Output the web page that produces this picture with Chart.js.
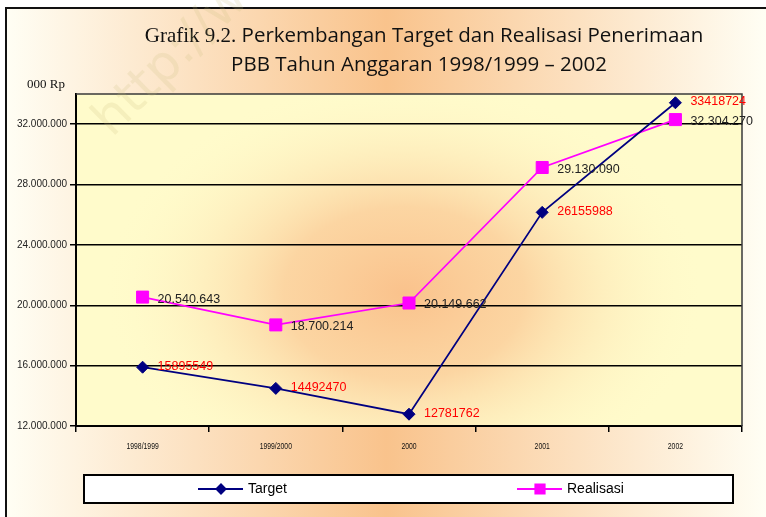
<!DOCTYPE html>
<html>
<head>
<meta charset="utf-8">
<title>Perkembangan Target dan Realisasi Penerimaan PBB</title>
<script src="https://cdn.jsdelivr.net/npm/chart.js@4.4.0/dist/chart.umd.min.js"></script>
<style>
    html, body { margin: 0; padding: 0; background: #fff; }
</style>
</head>
<body>
<canvas id="pbbChart" width="766" height="517"></canvas>
<script>
// Tahun anggaran dan nilai (ribu rupiah)
const years = ['1998/1999', '1999/2000', '2000', '2001', '2002'];
const targetValues = [15895549, 14492470, 12781762, 26155988, 33418724];
const realisasiValues = [20540643, 18700214, 20149662, 29130090, 32304270];
const yTicks = [12000000, 16000000, 20000000, 24000000, 28000000, 32000000];
const yMin = 12000000;
const yMax = 34000000;

// 32000000 -> "32.000.000"
const dotted = v => String(v).replace(/\B(?=(\d{3})+(?!\d))/g, '.');

const TITLE_SANS = '"Open Sans", "Noto Sans", sans-serif';

// Background: chart gradient, plot area gradient, outer frame, titles
const backdrop = {
    id: 'backdrop',
    beforeDraw(chart) {
        const ctx = chart.ctx;
        const { width, height } = chart;
        const a = chart.chartArea;
        ctx.save();
        ctx.fillStyle = '#fff';
        ctx.fillRect(0, 0, width, height);

        const g = ctx.createLinearGradient(7, 0, width, 0);
        g.addColorStop(0, '#FFFEF4');
        g.addColorStop(0.5, '#F9C38C');
        g.addColorStop(1, '#FFFEF4');
        ctx.fillStyle = g;
        ctx.fillRect(7, 9, width - 7, height - 9);

        // plot area: pale yellow with a warm centre
        ctx.fillStyle = '#FFFBCB';
        ctx.fillRect(a.left, a.top, a.width, a.height);
        ctx.save();
        ctx.beginPath();
        ctx.rect(a.left, a.top, a.width, a.height);
        ctx.clip();
        ctx.translate((a.left + a.right) / 2 - 5, a.top + a.height * 0.6);
        ctx.scale(1.4, 1);
        const rg = ctx.createRadialGradient(0, 0, 0, 0, 0, 215);
        rg.addColorStop(0, 'rgba(250,194,140,1)');
        rg.addColorStop(0.4, 'rgba(251,204,152,0.8)');
        rg.addColorStop(1, 'rgba(255,251,203,0)');
        ctx.fillStyle = rg;
        ctx.fillRect(-400, -300, 800, 600);
        ctx.restore();

        // frame
        ctx.strokeStyle = '#111';
        ctx.lineWidth = 2;
        ctx.beginPath();
        ctx.moveTo(6, height + 2);
        ctx.lineTo(6, 8);
        ctx.lineTo(width + 2, 8);
        ctx.stroke();

        // title, two fonts on the first line
        ctx.fillStyle = '#111';
        ctx.textBaseline = 'alphabetic';
        ctx.textAlign = 'left';
        const line2 = 'PBB Tahun Anggaran 1998/1999 \u2013 2002';
        ctx.font = '20px ' + TITLE_SANS;
        const size = Math.min(21, 20 * 376 / ctx.measureText(line2).width);
        const sansFont = size.toFixed(2) + 'px ' + TITLE_SANS;
        const serifFont = '21px "Liberation Serif", "Times New Roman", serif';
        const part1 = 'Grafik 9.2. ';
        const part2 = 'Perkembangan Target dan Realisasi Penerimaan';
        ctx.font = serifFont;
        const w1 = ctx.measureText(part1).width;
        ctx.font = sansFont;
        const w2 = ctx.measureText(part2).width;
        const x = 424 - (w1 + w2) / 2;
        ctx.font = serifFont;
        ctx.fillText(part1, x, 42);
        ctx.font = sansFont;
        ctx.fillText(part2, x + w1, 42);
        ctx.textAlign = 'center';
        ctx.fillText(line2, 419, 71);

        // unit label
        ctx.textAlign = 'left';
        ctx.font = '13px "Liberation Serif", "Times New Roman", serif';
        ctx.fillText('000 Rp', 27, 88);
        ctx.restore();
    },
    beforeDatasetsDraw(chart) {
        const ctx = chart.ctx;
        const a = chart.chartArea;
        ctx.save();
        ctx.strokeStyle = '#3a3a3a';
        ctx.lineWidth = 1.5;
        ctx.beginPath();
        ctx.moveTo(a.left, a.top);
        ctx.lineTo(a.right, a.top);
        ctx.lineTo(a.right, a.bottom);
        ctx.stroke();
        ctx.restore();
    }
};

// Category labels in a narrow face (horizontally compressed Arial)
const narrowCategoryLabels = {
    id: 'narrowCategoryLabels',
    afterDraw(chart) {
        const ctx = chart.ctx;
        const xs = chart.scales.x;
        ctx.save();
        ctx.font = '9.5px "Liberation Sans", Arial, sans-serif';
        ctx.fillStyle = '#111';
        ctx.textAlign = 'center';
        ctx.textBaseline = 'middle';
        chart.data.labels.forEach((lab, i) => {
            ctx.save();
            ctx.translate(xs.getPixelForTick(i), xs.top + 20);
            ctx.scale(0.72, 1);
            ctx.fillText(lab, 0, 0);
            ctx.restore();
        });
        ctx.restore();
    }
};

// Value labels beside each point
const labelStyles = {
    Target: { color: '#FF0000', dy: -1, format: v => String(v) },
    Realisasi: { color: '#222222', dy: 2, format: dotted }
};
const pointLabels = {
    id: 'pointLabels',
    afterDatasetsDraw(chart) {
        const ctx = chart.ctx;
        ctx.save();
        ctx.font = '12.5px "Liberation Sans", Arial, sans-serif';
        ctx.textAlign = 'left';
        ctx.textBaseline = 'middle';
        chart.data.datasets.forEach((ds, i) => {
            const st = labelStyles[ds.label];
            ctx.fillStyle = st.color;
            chart.getDatasetMeta(i).data.forEach((pt, j) => {
                ctx.fillText(st.format(ds.data[j]), pt.x + 15, pt.y + st.dy);
            });
        });
        ctx.restore();
    }
};

// Boxed legend below the axis
const legendBox = {
    id: 'legendBox',
    afterDraw(chart) {
        const ctx = chart.ctx;
        const a = chart.chartArea;
        const left = a.left + 8, right = a.right - 9;
        const top = a.bottom + 49, bottom = a.bottom + 77;
        const mid = (top + bottom) / 2;
        const starts = [left + 114, left + 433];
        const markerSize = { Target: 4.5, Realisasi: 6.5 };
        ctx.save();
        ctx.fillStyle = '#fff';
        ctx.fillRect(left, top, right - left, bottom - top);
        ctx.strokeStyle = '#000';
        ctx.lineWidth = 2;
        ctx.strokeRect(left, top, right - left, bottom - top);
        ctx.font = '14px "Liberation Sans", Arial, sans-serif';
        ctx.textBaseline = 'middle';
        ctx.textAlign = 'left';
        chart.data.datasets.forEach((ds, i) => {
            const x0 = starts[i];
            ctx.strokeStyle = ds.borderColor;
            ctx.lineWidth = 2;
            ctx.beginPath();
            ctx.moveTo(x0, mid);
            ctx.lineTo(x0 + 45, mid);
            ctx.stroke();
            ctx.fillStyle = ds.pointBackgroundColor;
            ctx.strokeStyle = ds.pointBorderColor;
            Chart.helpers.drawPoint(ctx, {
                pointStyle: ds.pointStyle, radius: markerSize[ds.label], rotation: 0, borderWidth: 1
            }, x0 + 23, mid);
            ctx.fillStyle = '#000';
            ctx.fillText(ds.label, x0 + 50, mid);
        });
        ctx.restore();
    }
};

// Faint diagonal watermark text in the upper left
const watermark = {
    id: 'watermark',
    afterDraw(chart) {
        const ctx = chart.ctx;
        ctx.save();
        ctx.translate(112, 138);
        ctx.rotate(-0.78);
        ctx.font = '50px "DejaVu Sans", sans-serif';
        ctx.fillStyle = 'rgba(200,190,120,0.18)';
        ctx.fillText('http://www', 0, 0);
        ctx.restore();
    }
};

new Chart(document.getElementById('pbbChart'), {
    type: 'line',
    data: {
        labels: years,
        datasets: [
            {
                label: 'Target',
                data: targetValues,
                borderColor: '#000080',
                backgroundColor: '#000080',
                pointBackgroundColor: '#000080',
                pointBorderColor: '#000080',
                borderWidth: 1.7,
                pointStyle: 'rectRot',
                pointRadius: 6,
                pointBorderWidth: 1,
                tension: 0
            },
            {
                label: 'Realisasi',
                data: realisasiValues,
                borderColor: '#FF00FF',
                backgroundColor: '#FF00FF',
                pointBackgroundColor: '#FF00FF',
                pointBorderColor: '#FF00FF',
                borderWidth: 1.7,
                pointStyle: 'rect',
                pointRadius: 8.5,
                pointBorderWidth: 1,
                tension: 0
            }
        ]
    },
    options: {
        responsive: false,
        animation: false,
        layout: { padding: { top: 94, right: 24, bottom: 0, left: 0 } },
        plugins: {
            legend: { display: false },
            title: { display: false },
            tooltip: { enabled: false }
        },
        scales: {
            x: {
                offset: true,
                grid: {
                    offset: true,
                    drawOnChartArea: false,
                    drawTicks: true,
                    tickLength: 6,
                    color: '#000',
                    lineWidth: 1.5
                },
                border: { color: '#000', width: 2 },
                ticks: { display: false },
                afterFit: s => { s.height = 91; }
            },
            y: {
                min: yMin,
                max: yMax,
                afterBuildTicks: s => { s.ticks = yTicks.map(v => ({ value: v })); },
                grid: { color: '#000', lineWidth: 1.5, tickLength: 6 },
                border: { color: '#000', width: 2 },
                ticks: {
                    color: '#222',
                    padding: 3,
                    font: { family: '"Liberation Sans", Arial', size: 10 },
                    callback: v => dotted(v)
                },
                afterFit: s => { s.width = 76; }
            }
        }
    },
    plugins: [backdrop, pointLabels, narrowCategoryLabels, legendBox, watermark]
});
</script>
</body>
</html>
